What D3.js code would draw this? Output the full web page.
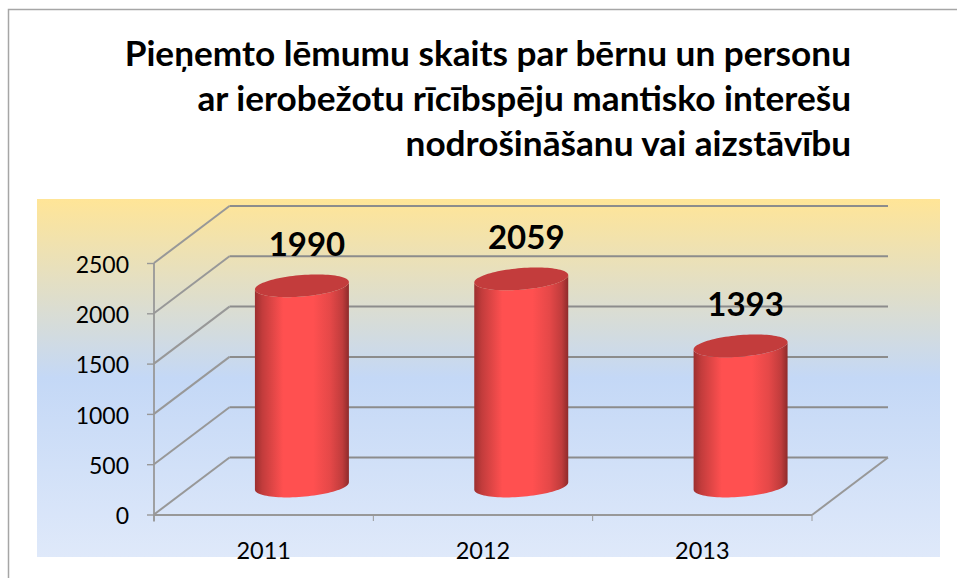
<!DOCTYPE html>
<html><head><meta charset="utf-8">
<script src="https://cdn.jsdelivr.net/npm/d3@7"></script>
<style>html,body{margin:0;padding:0;background:#fff}svg{display:block}text{font-family:Lato,Carlito,"Noto Sans",sans-serif}</style>
</head><body><div id="c"></div>
<script>
const titleLines = ["Pieņemto lēmumu skaits par bērnu un personu","ar ierobežotu rīcībspēju mantisko interešu","nodrošināšanu vai aizstāvību"];
const categories = ["2011","2012","2013"];
const values = [1990,2059,1393];
const yTicks = [0,500,1000,1500,2000,2500];

const W=957,H=578;
const svg=d3.select("#c").append("svg").attr("width",W).attr("height",H);
const defs=svg.append("defs");
const bg=defs.append("linearGradient").attr("id","bg").attr("x1",0).attr("y1",0).attr("x2",0).attr("y2",1);
[[0,"#ffe597"],[.5,"#c4d8f6"],[1,"#dfe9fa"]].forEach(s=>bg.append("stop").attr("offset",s[0]).attr("stop-color",s[1]));
const side=defs.append("linearGradient").attr("id","side").attr("x1",0).attr("y1",0).attr("x2",1).attr("y2",0);
[[0,"#9c2f2f"],[.08,"#c23c3c"],[.3,"#ff5050"],[.62,"#ff5050"],[.8,"#e54848"],[.93,"#c03c3c"],[1,"#8e2b2b"]].forEach(s=>side.append("stop").attr("offset",s[0]).attr("stop-color",s[1]));

// frame
svg.append("path").attr("d","M8.5,578V9.5H957").attr("fill","none").attr("stroke","#a6a6a6").attr("stroke-width",1.5);
svg.append("rect").attr("x",37).attr("y",199).attr("width",903).attr("height",358).attr("fill","url(#bg)");

// title
svg.append("g").selectAll("text").data(titleLines).join("text")
 .attr("x",851).attr("y",(d,i)=>66+45*i).attr("text-anchor","end")
 .attr("font-size",35.2).attr("font-weight",700).attr("fill","#000").text(d=>d);

// scales
const depthX=75.5, depthY=-57;
const x=d3.scaleBand().domain(categories).range([154,812]).paddingInner(0).paddingOuter(0);
const y=d3.scaleLinear().domain([0,2500]).range([514.5,263]);
const grid="#8c8c8c";

const g=svg.append("g");
// back wall gridlines + side wall diagonals
g.selectAll(".b").data(yTicks).join("line").attr("x1",154+depthX).attr("x2",812+depthX+.5)
 .attr("y1",d=>y(d)+depthY).attr("y2",d=>y(d)+depthY).attr("stroke",grid).attr("stroke-width",2);
g.selectAll(".s").data(yTicks).join("line").attr("x1",154).attr("x2",154+depthX)
 .attr("y1",d=>y(d)).attr("y2",d=>y(d)+depthY).attr("stroke","#989898").attr("stroke-width",2);
// floor right edge
g.append("line").attr("x1",812).attr("y1",y(0)+.5).attr("x2",812+depthX+.5).attr("y2",y(0)+depthY).attr("stroke","#989898").attr("stroke-width",2);

// axes
const ax=svg.append("g").attr("transform",`translate(154,0)`).call(d3.axisLeft(y).tickValues(yTicks).tickSize(7).tickPadding(18).tickFormat(d3.format("d")));
ax.select(".domain").attr("stroke","#989898").attr("stroke-width",1.8).attr("d",`M0,${y(2500)}V${y(0)+7}`);
ax.selectAll("line").attr("stroke","#989898").attr("stroke-width",1.4);
ax.selectAll("text").attr("font-size",23).attr("fill","#000").attr("dy","0.4em").attr("font-family","Lato");
const bx=svg.append("g").attr("transform",`translate(0,${y(0)+.5})`).call(d3.axisBottom(x).tickSize(0).tickPadding(27));
bx.select(".domain").attr("stroke","#989898").attr("stroke-width",2).attr("d","M154,0H812");
bx.selectAll("text").attr("font-size",23.5).attr("fill","#000").attr("font-family","Lato");
const tickPos=[...categories.map(c=>x(c)),x.range()[1]];
bx.selectAll(".sep").data(tickPos).join("line").attr("class","sep").attr("x1",d=>d).attr("x2",d=>d).attr("y1",0).attr("y2",6).attr("stroke","#989898");

// cylinders
const a=44.5,bk=0.2,tangle=Math.atan2(bk*depthX,a);
const pt=(cx,cy,t)=>[cx+a*Math.cos(t)+bk*depthX*Math.sin(t),cy+bk*depthY*Math.sin(t)];
const tsFront=d3.range(0,49).map(i=>tangle+Math.PI+Math.PI*i/48);
const tsFull=d3.range(0,97).map(i=>2*Math.PI*i/96);
const line=d3.line();
const bars=svg.append("g").selectAll("g").data(categories.map((c,i)=>({c,v:values[i]}))).join("g");
const cxOf=d=>x(d.c)+x.bandwidth()/2+depthX/2+.5;
const cyBase=d=>y(0)+depthY/2;
const cyTop=d=>y(d.v)+depthY/2;
bars.append("path").attr("fill","url(#side)").attr("d",d=>{
  const cx=cxOf(d),b=cyBase(d),t=cyTop(d);
  const bottom=tsFront.map(tt=>pt(cx,b,tt));
  const top=tsFront.slice().reverse().map(tt=>pt(cx,t,tt));
  return line(bottom.concat(top))+"Z";
});
bars.append("path").attr("fill","#c33c3c").attr("d",d=>line(tsFull.map(tt=>pt(cxOf(d),cyTop(d),tt)))+"Z");
bars.append("text").attr("x",d=>cxOf(d)+5).attr("y",d=>cyTop(d)-29.5).attr("text-anchor","middle")
 .attr("font-size",33).attr("font-weight",700).attr("fill","#000").text(d=>d.v);
</script></body></html>
